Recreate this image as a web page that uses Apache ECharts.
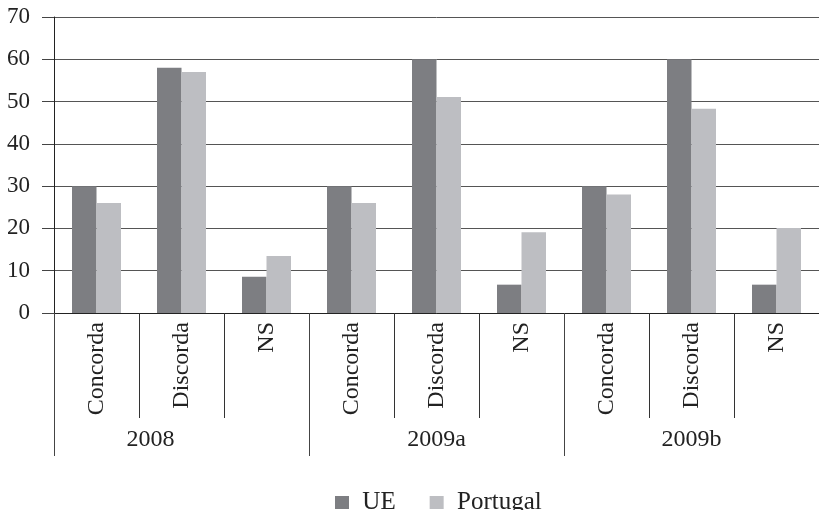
<!DOCTYPE html>
<html>
<head>
<meta charset="utf-8">
<script src="https://cdn.jsdelivr.net/npm/echarts@6/dist/echarts.min.js"></script>
<style>
html,body{margin:0;padding:0;background:#fff;}
#chart{width:819px;height:510px;}
</style>
</head>
<body>
<div id="chart"></div>
<script>
var categories = ['Concorda','Discorda','NS','Concorda','Discorda','NS','Concorda','Discorda','NS'];
var groups = ['2008','2009a','2009b'];
var ueValues = [30, 58, 8.6, 30, 60, 6.7, 30, 60, 6.7];
var portugalValues = [26, 57, 13.5, 26, 51.1, 19.1, 28, 48.3, 20.1];
var yTicks = [0, 10, 20, 30, 40, 50, 60, 70];

var font = 'Liberation Serif';
var chart = echarts.init(document.getElementById('chart'), null, {renderer: 'canvas'});
chart.setOption({
  animation: false,
  backgroundColor: '#ffffff',
  color: ['#7d7e82', '#bdbec2'],
  textStyle: {fontFamily: font},
  grid: {left: 54, top: 17, width: 773, height: 296, containLabel: false},
  legend: {
    data: ['UE', 'Portugal'],
    left: 335, top: 490, padding: 0,
    itemWidth: 14, itemHeight: 13, itemGap: 34,
    icon: 'rect',
    textStyle: {fontFamily: font, fontSize: 25, color: '#222'},
    formatter: function (n) { return '\u2004' + n; }
  },
  xAxis: [{
    type: 'category',
    data: categories,
    position: 'bottom',
    axisLine: {show: true, lineStyle: {color: '#222', width: 1}},
    axisTick: {show: true, interval: 0, length: 105, lineStyle: {color: '#333', width: 1}},
    axisLabel: {interval: 0, rotate: 90, margin: 9, fontFamily: font, fontSize: 24, color: '#222'},
    splitLine: {show: false}
  }, {
    type: 'category',
    data: groups,
    position: 'bottom',
    axisLine: {show: false},
    axisTick: {show: true, interval: 0, length: 143, lineStyle: {color: '#444', width: 1}},
    axisLabel: {
      interval: 0, margin: 115, fontFamily: font, fontSize: 24, color: '#222',
      formatter: function (v) { return v === '2008' ? '{a|' + v + '}' : v; },
      rich: {a: {fontFamily: font, fontSize: 24, color: '#222', padding: [0, 62, 0, 0]}}
    },
    splitLine: {show: false}
  }],
  yAxis: {
    type: 'value',
    min: 0, max: 70, interval: 10,
    axisLine: {show: true, lineStyle: {color: '#222', width: 1}},
    axisTick: {show: true, length: 12, lineStyle: {color: '#444'}},
    axisLabel: {
      margin: 24, fontFamily: font, fontSize: 23, color: '#222',
      formatter: function (v) { return yTicks.indexOf(v) >= 0 ? String(v) : ''; }
    },
    splitLine: {show: true, lineStyle: {color: '#555', width: 1}}
  },
  series: [{
    name: 'UE', type: 'bar', xAxisIndex: 0, data: ueValues,
    barWidth: 24.5, barGap: '0%',
    itemStyle: {color: '#7d7e82'}
  }, {
    name: 'Portugal', type: 'bar', xAxisIndex: 0, data: portugalValues,
    barWidth: 24.5, barGap: '0%',
    itemStyle: {color: '#bdbec2'}
  }]
});
</script>
</body>
</html>
